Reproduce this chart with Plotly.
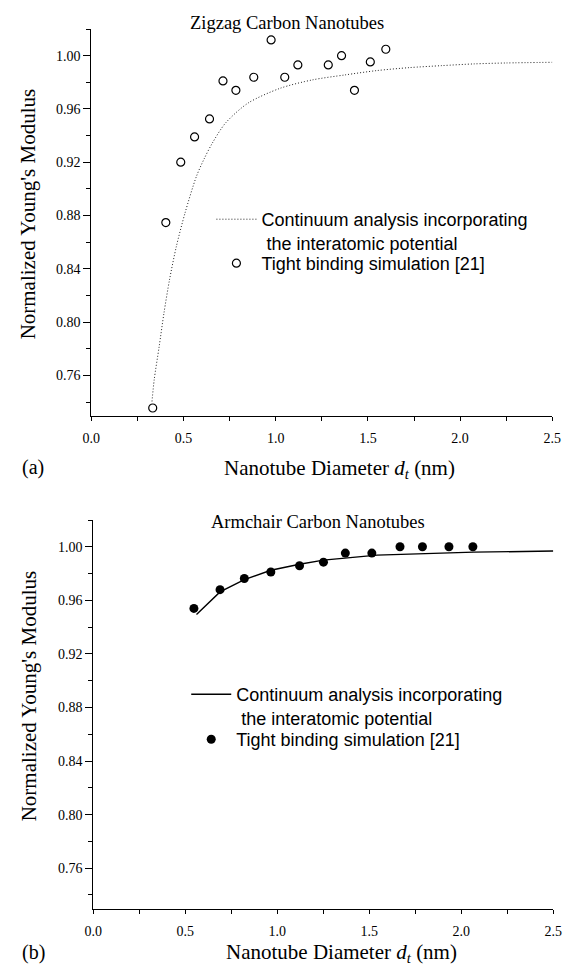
import plotly.graph_objects as go

W, H = 571, 966

# ---------------- data ----------------
# (a) Zigzag: tight binding points
zz_d = [0.333, 0.404, 0.485, 0.560, 0.641, 0.714, 0.784, 0.881, 0.975, 1.049,
        1.120, 1.285, 1.357, 1.427, 1.513, 1.597]
zz_E = [0.7355, 0.8747, 0.920, 0.939, 0.9525, 0.981, 0.974, 0.9838, 1.0118, 0.9838,
        0.993, 0.993, 1.000, 0.974, 0.9953, 1.0048]
# (a) Zigzag: continuum curve
zzc_d = [0.329, 0.341, 0.368, 0.394, 0.424, 0.461, 0.508, 0.569, 0.610, 0.656,
         0.727, 0.849, 1.024, 1.199, 1.374, 1.549, 1.724, 1.900, 2.075, 2.250, 2.500]
zzc_E = [0.7404, 0.7567, 0.7817, 0.8068, 0.8317, 0.8567, 0.8818, 0.9090, 0.9220, 0.9343,
         0.9493, 0.9643, 0.9755, 0.9818, 0.9855, 0.9888, 0.9910, 0.9925, 0.9938, 0.9945, 0.9950]

# (b) Armchair: tight binding points
ac_d = [0.547, 0.689, 0.821, 0.965, 1.121, 1.251, 1.370, 1.514, 1.667, 1.789, 1.933, 2.063]
ac_E = [0.954, 0.968, 0.9763, 0.9812, 0.9858, 0.9885, 0.9953, 0.9953, 1.000, 1.000, 1.000, 1.000]
# (b) Armchair: continuum curve
acc_d = [0.561, 0.689, 0.821, 0.965, 1.121, 1.251, 1.542, 2.068, 2.500]
acc_E = [0.9495, 0.9663, 0.9755, 0.9825, 0.9870, 0.9900, 0.9938, 0.9960, 0.9968]

y_ticks = [0.76, 0.80, 0.84, 0.88, 0.92, 0.96, 1.00]
y_labels = ["0.76", "0.80", "0.84", "0.88", "0.92", "0.96", "1.00"]
x_ticks = [0.0, 0.5, 1.0, 1.5, 2.0, 2.5]
x_labels = ["0.0", "0.5", "1.0", "1.5", "2.0", "2.5"]

legend_line = "Continuum analysis incorporating<br>\u00a0the interatomic potential"
legend_pts = "Tight binding simulation [21]"

SERIF = "Liberation Serif"
SANS = "Liberation Sans"

fig = go.Figure()

fig.add_trace(go.Scatter(x=zzc_d, y=zzc_E, mode="lines", name=legend_line,
                         line=dict(color="#222222", width=1, dash="1px,2px", shape="spline", smoothing=0.8),
                         xaxis="x", yaxis="y", legend="legend"))
fig.add_trace(go.Scatter(x=zz_d, y=zz_E, mode="markers", name=legend_pts,
                         marker=dict(symbol="circle-open", size=8, color="black",
                                     line=dict(width=1.2, color="black")),
                         xaxis="x", yaxis="y", legend="legend3"))

fig.add_trace(go.Scatter(x=acc_d, y=acc_E, mode="lines", name=legend_line,
                         line=dict(color="black", width=1.4),
                         xaxis="x2", yaxis="y2", legend="legend2"))
fig.add_trace(go.Scatter(x=ac_d, y=ac_E, mode="markers", name=legend_pts,
                         marker=dict(symbol="circle", size=9, color="black"),
                         xaxis="x2", yaxis="y2", legend="legend4"))


def xax(domain, anchor):
    return dict(domain=domain, anchor=anchor, range=[0, 2.5],
                showline=True, linecolor="black", linewidth=1,
                showgrid=False, zeroline=False,
                tickmode="array", tickvals=x_ticks, ticktext=x_labels,
                ticks="outside", ticklen=4, tickwidth=1, tickcolor="black",
                ticklabelstandoff=5,
                tickfont=dict(family=SERIF, size=14, color="black"),
                minor=dict(dtick=0.25, tick0=0, ticks="outside", ticklen=4,
                           tickwidth=1, tickcolor="black", showgrid=False),
                fixedrange=True)


def yax(domain, anchor):
    return dict(domain=domain, anchor=anchor, range=[0.7295, 1.02],
                showline=True, linecolor="black", linewidth=1,
                showgrid=False, zeroline=False,
                tickmode="array", tickvals=y_ticks, ticktext=y_labels,
                ticks="outside", ticklen=7, tickwidth=1, tickcolor="black",
                tickfont=dict(family=SERIF, size=14, color="black"),
                minor=dict(dtick=0.02, tick0=0.76, ticks="outside", ticklen=4,
                           tickwidth=1, tickcolor="black", showgrid=False),
                fixedrange=True)


def px_x(p):
    return p / W


def px_y(p):
    return 1 - p / H


annotations = [
    dict(text="Zigzag Carbon Nanotubes", x=px_x(287), y=px_y(23), font=dict(family=SERIF, size=18.5)),
    dict(text="Armchair Carbon Nanotubes", x=px_x(319), y=px_y(522), font=dict(family=SERIF, size=18.5)),
    dict(text="Nanotube Diameter <i>d<sub>t</sub></i> (nm)", x=px_x(341), y=px_y(469), font=dict(family=SERIF, size=21)),
    dict(text="Nanotube Diameter <i>d<sub>t</sub></i> (nm)", x=px_x(343), y=px_y(953), font=dict(family=SERIF, size=21)),
    dict(text="(a)", x=px_x(25), y=px_y(467), font=dict(family=SERIF, size=20)),
    dict(text="(b)", x=px_x(25), y=px_y(952), font=dict(family=SERIF, size=20)),
    dict(text="Normalized Young's Modulus", x=px_x(20), y=px_y(214), textangle=-90, font=dict(family=SERIF, size=21)),
    dict(text="Normalized Young's Modulus", x=px_x(21), y=px_y(696), textangle=-90, font=dict(family=SERIF, size=21)),
]
for a in annotations:
    a.update(xref="paper", yref="paper", showarrow=False, xanchor="center", yanchor="middle")
    a["font"]["color"] = "black"

leg_common = dict(xanchor="left", yanchor="top", bgcolor="rgba(0,0,0,0)",
                  borderwidth=0, font=dict(family=SANS, size=18, color="black"),
                  valign="top", itemwidth=40, tracegroupgap=0)

fig.update_layout(
    width=W, height=H,
    margin=dict(l=0, r=0, t=0, b=0),
    paper_bgcolor="white", plot_bgcolor="white",
    xaxis=xax([85 / W, 561 / W], "y"),
    yaxis=yax([px_y(416), px_y(29)], "x"),
    xaxis2=xax([87 / W, 562 / W], "y2"),
    yaxis2=yax([px_y(909), px_y(520)], "x2"),
    legend=dict(x=px_x(209), y=px_y(201), **leg_common),
    legend3=dict(x=px_x(209), y=px_y(245), **leg_common),
    legend2=dict(x=px_x(183), y=px_y(676), **leg_common),
    legend4=dict(x=px_x(183), y=px_y(721), **leg_common),
    annotations=annotations,
    showlegend=True,
)

fig.write_html("out.html", config={"displayModeBar": False},
               post_script="document.body.style.margin='0';")
